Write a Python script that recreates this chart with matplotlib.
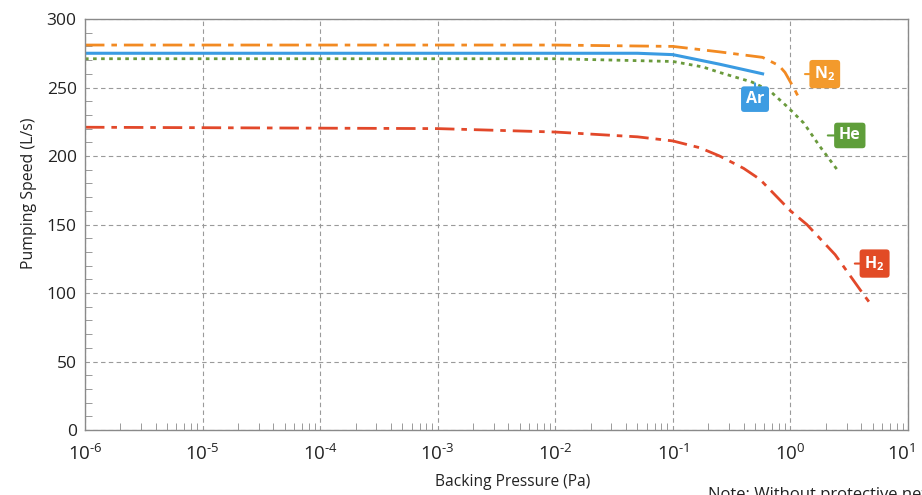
import matplotlib.pyplot as plt
from matplotlib.ticker import LogLocator, MultipleLocator, FuncFormatter
import numpy as np

plt.rcParams['font.family'] = ['Open Sans', 'DejaVu Sans']
plt.rcParams['mathtext.fontset'] = 'custom'
plt.rcParams['mathtext.rm'] = 'Open Sans'

# curves (pressure in Pa, speed in L/s)
p_n2 = [1e-6, 1e-3, 1e-2, 0.1, 0.25, 0.58, 0.8, 0.9, 1.0, 1.08, 1.17]
s_n2 = [281, 281, 281, 280, 276, 272, 266, 261, 254, 249, 243]

p_ar = [1e-6, 1e-2, 0.05, 0.1, 0.25, 0.58]
s_ar = [275, 275, 275, 274, 267, 260]

p_he = [1e-6, 1e-2, 0.1, 0.18, 0.25, 0.47, 0.66, 0.94, 1.3, 1.78, 2.5]
s_he = [271, 271, 269, 265, 261, 254, 248, 236, 224, 207, 190]

p_h2 = [1e-6, 1e-3, 1e-2, 0.05, 0.1, 0.17, 0.25, 0.4, 0.55, 1.0, 1.38, 2.4, 4.1, 5.0]
s_h2 = [221, 220, 217.5, 214, 211, 206, 200, 191, 183, 160, 150, 128, 100, 90]

c_n2, c_ar, c_he, c_h2 = '#F28A22', '#3A9BE2', '#6A9A3C', '#E2482A'

fig = plt.figure(figsize=(9.22, 4.95), dpi=100)
ax = fig.add_axes([0.0922, 0.1313, 0.8926, 0.8303])

ax.plot(p_n2, s_n2, color=c_n2, lw=2, ls=(0, (7, 2.5, 2, 2.5)))
ax.plot(p_ar, s_ar, color=c_ar, lw=2.2, ls='-')
ax.plot(p_he, s_he, color=c_he, lw=2, ls=(0, (1.3, 1.6)))
ax.plot(p_h2, s_h2, color=c_h2, lw=2, ls=(0, (7, 2.5, 2, 2.5)))

ax.set_xscale('log')
ax.set_xlim(1e-6, 10)
ax.set_ylim(0, 300)
ax.yaxis.set_major_locator(MultipleLocator(50))
ax.yaxis.set_minor_locator(MultipleLocator(10))
ax.xaxis.set_major_locator(LogLocator(base=10, numticks=20))
ax.xaxis.set_minor_locator(LogLocator(base=10, subs=np.arange(2, 10), numticks=20))


def pow10(v, pos):
    e = int(round(np.log10(v)))
    if e >= 1:
        return ''  # drawn separately, nudged inside the figure
    if e < 0:
        return r'$\mathregular{10^{\text{-}%d}}$' % (-e)
    return r'$\mathregular{10^{%d}}$' % e


ax.xaxis.set_major_formatter(FuncFormatter(pow10))

ax.grid(True, which='major', color='#9a9a9a', ls=(0, (4, 3)), lw=0.8)
for s in ax.spines.values():
    s.set_color('#8a8a8a')
    s.set_linewidth(1)
ax.tick_params(which='both', direction='in', colors='#8a8a8a', labelcolor='#222222')
ax.tick_params(which='major', length=0)
ax.tick_params(which='minor', length=5)
ax.tick_params(axis='x', which='major', labelsize=13.5, pad=10)
ax.tick_params(axis='y', which='major', labelsize=12.5, pad=6)

ax.annotate(r'$\mathregular{10^{1}}$', xy=(1, 0), xycoords='axes fraction',
            xytext=(-5, -10), textcoords='offset points', ha='center', va='top',
            fontsize=13.5, color='#222222')

ax.set_xlabel('Backing Pressure (Pa)', fontsize=11.2, color='#222222')
ax.set_ylabel('Pumping Speed (L/s)', fontsize=11.4, color='#222222')
ax.xaxis.set_label_coords(0.52, -0.108)
ax.yaxis.set_label_coords(-0.058, 0.575)


def tag(text, xy_box, xy_end, color):
    ax.annotate(text, xy=xy_end, xytext=xy_box, color='white', fontsize=11.5,
                fontweight='bold', ha='center', va='center',
                bbox=dict(boxstyle='round,pad=0.3,rounding_size=0.2', fc=color, ec='none'),
                arrowprops=dict(arrowstyle='-', color=color, lw=1.5, shrinkA=0, shrinkB=0))


tag(r'N$_\mathregular{2}$', (1.96, 259.8), (1.33, 259.8), '#F39A2C')
tag('Ar', (0.50, 241.5), (0.50, 253), '#3D9CE2')
tag('He', (3.2, 215), (2.08, 215), '#5F9E3A')
tag(r'H$_\mathregular{2}$', (5.2, 121.5), (3.53, 121.5), '#E24B26')

fig.text(0.768, 0.016, 'Note: Without protective net', fontsize=12, color='#222222',
         ha='left', va='top')

fig.savefig('out.png', dpi=100)
